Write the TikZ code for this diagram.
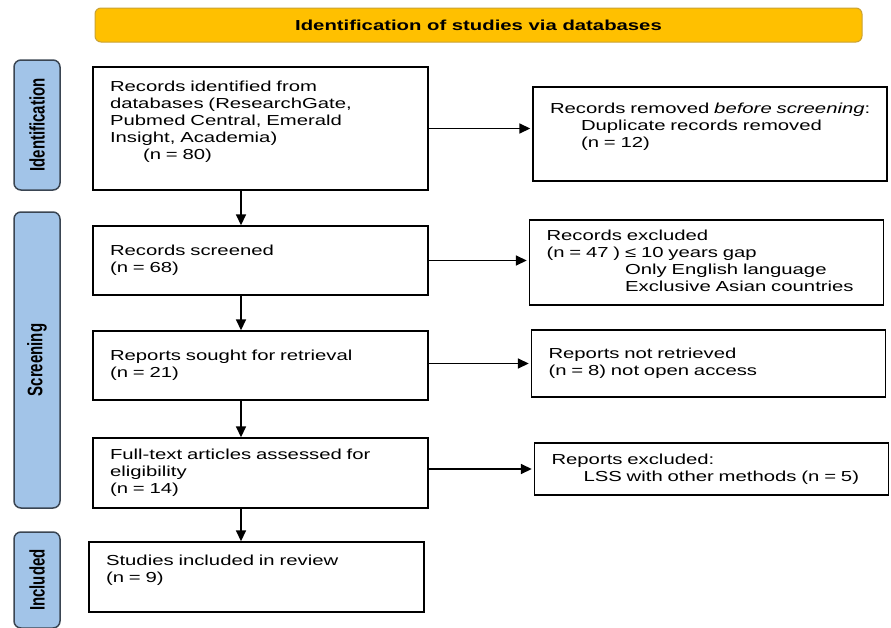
\documentclass[tikz,border=0pt]{standalone}
\usepackage{fontspec}
\usepackage{graphicx}
\setmainfont{Liberation Sans}[FakeStretch=1.4]
\newfontfamily\sidefont{Liberation Sans}
\usetikzlibrary{positioning, arrows.meta}

\definecolor{bannerfill}{HTML}{FFC000}
\definecolor{bannerdraw}{HTML}{C9A234}
\definecolor{phasefill}{HTML}{A2C4E8}
\definecolor{phasedraw}{HTML}{3A4552}

\begin{document}
\begin{tikzpicture}[
        x=1pt, y=-1pt,
        font=\fontsize{14.5pt}{17pt}\selectfont,
        banner/.style={rectangle, draw=bannerdraw, fill=bannerfill,
          rounded corners=6pt, minimum width=767pt, minimum
          height=34pt, line width=1pt,
          font=\fontsize{14.5pt}{17pt}\selectfont\bfseries},
        phase/.style={rectangle, draw=phasedraw, fill=phasefill,
          rounded corners=7pt, rotate=90, minimum height=46pt, line
          width=1.5pt, font=\sidefont\bfseries\fontsize{15pt}{17pt}\selectfont},
        block/.style={rectangle, draw, align=left, text width=301pt,
        inner xsep=17pt, line width=1.4pt},
        side/.style={rectangle, draw, align=left, text width=320pt,
        inner xsep=17pt, line width=1.4pt},
        line/.style={draw, -{Triangle[length=11pt, width=10pt]}, line width=1.6pt}
      ]
      \useasboundingbox (0,0) rectangle (891,627);

      % Title banner
      \node [banner] (title) at (478.5, 25) {Identification of studies via databases};

      % Phase labels on the left
      \node [phase, minimum width=130pt] (p_ident) at (37, 125)
      {\scalebox{1}[1.4]{Identification}};
      \node [phase, minimum width=296pt] (p_screen) at (37, 360)
      {\scalebox{1}[1.4]{Screening}};
      \node [phase, minimum width=96pt] (p_incl) at (37, 580)
      {\scalebox{1}[1.4]{Included}};

      % Main column
      \node [block, minimum height=123pt] (b_ident) at (260.5, 128.5)
      {Records identified from\\databases (ResearchGate,\\Pubmed Central, Emerald\\Insight, Academia)\\\hspace*{33pt}(n = 80)\\\mbox{}};
      \node [block, minimum height=69pt] (b_screen) at (260.5, 260.5)
      {Records screened\\(n = 68)};
      \node [block, minimum height=69pt] (b_sought) at (260.5, 365.5)
      {Reports sought for retrieval\\(n = 21)};
      \node [block, minimum height=70pt] (b_full) at (260.5, 473)
      {Full-text articles assessed for\\eligibility\\(n = 14)};
      \node [block, minimum height=70pt] (b_incl) at (256.5, 577)
      {Studies included in review\\(n = 9)\\\mbox{}};

      % Exclusions on the right
      \node [side, minimum height=94pt] (r_removed) at (710, 134)
      {\mbox{Records removed \textit{before screening}:}\\\hspace*{31pt}Duplicate records removed\\\hspace*{31pt}(n = 12)\\\mbox{}};
      \node [side, minimum height=85pt] (r_excl) at (706.5, 262.5)
      {Records excluded\\(n = 47 ) ≤ 10 years gap\\\phantom{(n = 47 ) }Only English language\\\phantom{(n = 47 ) }Exclusive Asian countries};
      \node [side, minimum height=67pt] (r_notret) at (708.5, 363.5)
      {Reports not retrieved\\(n = 8) not open access};
      \node [side, minimum height=52pt] (r_repexcl) at (711.5, 469)
      {Reports excluded:\\\hspace*{32pt}LSS with other methods (n = 5)};

      % Downward flow
      \coordinate (spine) at (241, 0);
      \path [line] (b_ident.south -| spine) -- (b_screen.north -| spine);
      \path [line] (b_screen.south -| spine) -- (b_sought.north -| spine);
      \path [line] (b_sought.south -| spine) -- (b_full.north -| spine);
      \path [line] (b_full.south -| spine) -- (b_incl.north -| spine);

      % Side arrows
      \path [line, shorten >=2pt] (b_ident.east) -- (b_ident.east -| r_removed.west);
      \path [line, shorten >=2pt] (b_screen.east) -- (b_screen.east -| r_excl.west);
      \path [line, shorten >=2pt] (r_notret.west -| b_sought.east) -- (r_notret.west);
      \path [line, shorten >=2pt] (r_repexcl.west -| b_full.east) -- (r_repexcl.west);

    \end{tikzpicture}
\end{document}
